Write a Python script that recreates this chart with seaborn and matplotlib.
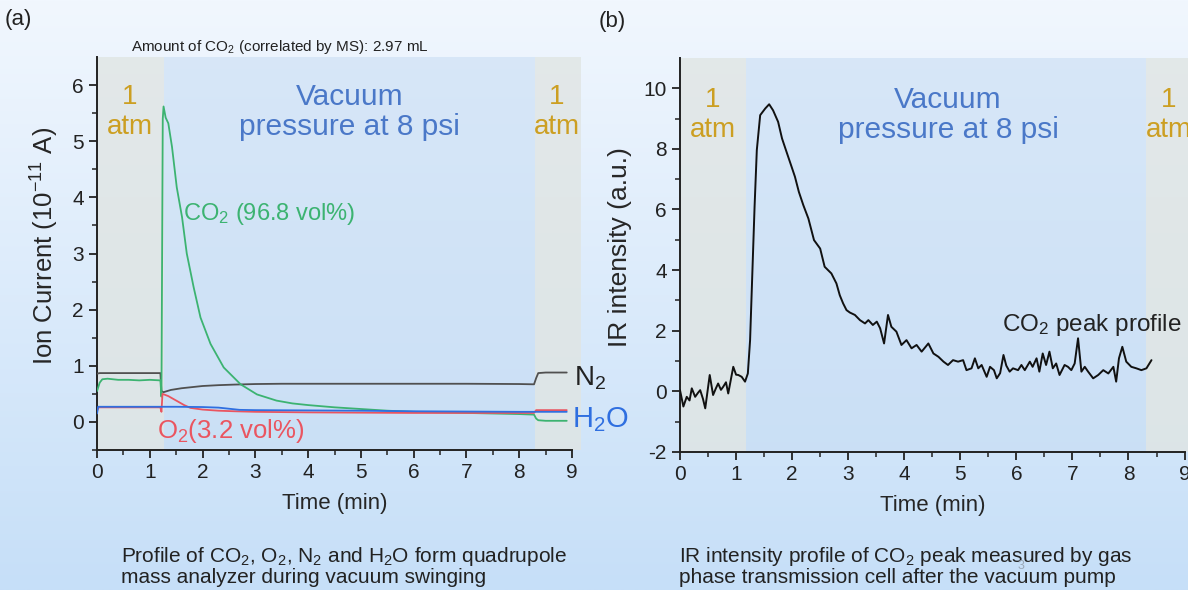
import numpy as np
import pandas as pd
import matplotlib
matplotlib.use("Agg")
import matplotlib.pyplot as plt
import seaborn as sns

# ---- panel (a): quadrupole MS traces ----
n2_t = [0, 0.05, 0.3, 0.6, 0.9, 1.2, 1.22, 1.26, 1.4, 1.6, 1.8, 2.0, 2.3, 2.6, 3.0, 3.5, 4.0, 5.0, 6.0, 7.0, 8.0, 8.28, 8.32, 8.36, 8.5, 8.7, 8.9]
n2_v = [0.86, 0.87, 0.87, 0.87, 0.87, 0.87, 0.55, 0.53, 0.57, 0.60, 0.62, 0.64, 0.655, 0.665, 0.675, 0.68, 0.68, 0.68, 0.68, 0.68, 0.675, 0.67, 0.78, 0.87, 0.88, 0.88, 0.88]

co2_t = [0, 0.05, 0.1, 0.2, 0.4, 0.6, 0.8, 1.0, 1.2, 1.22, 1.245, 1.26, 1.30, 1.35, 1.42, 1.51, 1.61, 1.70, 1.83, 1.96, 2.15, 2.4, 2.72, 3.03, 3.4, 3.7, 4.0, 4.5, 5.0, 5.5, 6.0, 7.0, 8.0, 8.28, 8.32, 8.36, 8.5, 8.9]
co2_v = [0.55, 0.70, 0.76, 0.77, 0.75, 0.75, 0.74, 0.75, 0.74, 0.45, 5.40, 5.62, 5.42, 5.32, 4.90, 4.18, 3.65, 3.00, 2.40, 1.86, 1.39, 0.97, 0.67, 0.49, 0.38, 0.33, 0.30, 0.26, 0.23, 0.20, 0.18, 0.16, 0.14, 0.13, 0.06, 0.03, 0.02, 0.02]

o2_t = [0, 0.03, 0.5, 1.0, 1.2, 1.22, 1.24, 1.35, 1.51, 1.65, 1.77, 2.0, 2.3, 2.6, 3.0, 4.0, 5.0, 6.0, 7.0, 8.28, 8.32, 8.5, 8.9]
o2_v = [0.20, 0.26, 0.26, 0.26, 0.26, 0.18, 0.50, 0.46, 0.375, 0.30, 0.25, 0.22, 0.20, 0.19, 0.18, 0.17, 0.165, 0.16, 0.16, 0.16, 0.21, 0.21, 0.21]

h2o_t = [0, 0.02, 0.5, 1.0, 1.5, 2.0, 2.3, 2.5, 2.7, 3.0, 4.0, 5.0, 6.0, 7.0, 8.0, 8.3, 8.5, 8.9]
h2o_v = [0.15, 0.27, 0.27, 0.27, 0.27, 0.265, 0.255, 0.235, 0.215, 0.21, 0.205, 0.20, 0.19, 0.185, 0.18, 0.18, 0.18, 0.18]

# ---- panel (b): IR intensity of CO2 peak ----
ir_t = [0.00, 0.06, 0.12, 0.17, 0.21, 0.27, 0.32, 0.36, 0.41, 0.45, 0.53, 0.59, 0.64, 0.68, 0.73, 0.77, 0.82, 0.86, 0.95, 1.00,
        1.04, 1.10, 1.16, 1.21, 1.25, 1.29, 1.33, 1.37, 1.43, 1.52, 1.59, 1.66, 1.75, 1.82, 1.90, 1.99, 2.05, 2.12, 2.20, 2.29,
        2.39, 2.50, 2.58, 2.70, 2.79, 2.85, 2.91, 2.97, 3.03, 3.12, 3.21, 3.30, 3.36, 3.44, 3.51, 3.57, 3.64, 3.71, 3.77, 3.86,
        3.95, 4.04, 4.13, 4.22, 4.31, 4.43, 4.52, 4.61, 4.70, 4.78, 4.87, 4.96, 5.05, 5.11, 5.20, 5.26, 5.32, 5.38, 5.47, 5.53,
        5.60, 5.65, 5.71, 5.77, 5.82, 5.88, 5.94, 6.03, 6.09, 6.15, 6.24, 6.29, 6.36, 6.41, 6.47, 6.53, 6.59, 6.65, 6.71, 6.77,
        6.86, 6.92, 6.98, 7.04, 7.10, 7.16, 7.22, 7.28, 7.37, 7.46, 7.55, 7.64, 7.73, 7.78, 7.83, 7.89, 7.96, 8.05, 8.14, 8.23,
        8.32, 8.41]
ir_v = [0.04, -0.50, -0.18, -0.30, 0.10, -0.18, -0.05, 0.04, -0.25, -0.56, 0.54, -0.12, 0.10, 0.26, 0.05, 0.15, 0.30, -0.07, 0.81, 0.55,
        0.54, 0.48, 0.32, 0.59, 1.69, 3.89, 6.09, 7.96, 9.11, 9.33, 9.47, 9.27, 8.89, 8.34, 7.90, 7.41, 7.08, 6.58, 6.14, 5.70,
        4.99, 4.71, 4.11, 3.89, 3.56, 3.17, 2.90, 2.68, 2.60, 2.52, 2.35, 2.24, 2.35, 2.19, 2.30, 2.08, 1.58, 2.52, 2.13, 1.97,
        1.53, 1.69, 1.42, 1.53, 1.31, 1.58, 1.25, 1.14, 0.98, 0.87, 1.03, 0.98, 1.03, 0.70, 0.76, 1.09, 0.76, 0.87, 0.48, 0.81,
        0.70, 0.43, 0.60, 1.20, 0.85, 0.65, 0.76, 0.70, 0.87, 0.70, 0.98, 0.81, 1.09, 0.65, 1.25, 0.87, 1.31, 0.76, 0.92, 0.54,
        0.87, 0.81, 0.70, 0.92, 1.75, 0.65, 0.81, 0.65, 0.43, 0.54, 0.70, 0.59, 0.81, 0.32, 1.09, 1.47, 0.98, 0.81, 0.76, 0.70,
        0.76, 1.03]

ms_df = pd.concat([
    pd.DataFrame({"t": n2_t, "v": n2_v, "gas": "N2"}),
    pd.DataFrame({"t": co2_t, "v": co2_v, "gas": "CO2"}),
    pd.DataFrame({"t": o2_t, "v": o2_v, "gas": "O2"}),
    pd.DataFrame({"t": h2o_t, "v": h2o_v, "gas": "H2O"}),
])
ir_df = pd.DataFrame({"t": ir_t, "v": ir_v})

sns.set_style("ticks")
plt.rcParams["font.family"] = ["Liberation Sans", "DejaVu Sans"]
plt.rcParams["mathtext.fontset"] = "custom"
plt.rcParams["mathtext.rm"] = "Liberation Sans"
plt.rcParams["mathtext.it"] = "Liberation Sans:italic"
plt.rcParams["axes.unicode_minus"] = False

gold = "#cc9f22"
vac_blue = "#4a78c8"
palette = {"N2": "#505050", "CO2": "#3cb371", "O2": "#ea5560", "H2O": "#2f6fe0"}

fig = plt.figure(figsize=(11.88, 5.90), dpi=100)

# gradient background
bg = fig.add_axes([0, 0, 1, 1], zorder=-10)
top = np.array([241, 247, 254]) / 255
bot = np.array([198, 223, 248]) / 255
grad = np.linspace(0, 1, 256)[:, None, None]
img = top * (1 - grad) + bot * grad
img = np.repeat(img, 2, axis=1)
bg.imshow(img, aspect="auto", extent=[0, 1, 0, 1])
bg.axis("off")

ax1 = fig.add_axes([0.0817, 0.2373, 0.3998, 0.666])
ax2 = fig.add_axes([0.5724, 0.2339, 0.4247, 0.668])

atm_c = "#e0e5e3"
vac_c = "#c6dcf3"


def style_axis(ax):
    ax.set_facecolor("none")
    sns.despine(ax=ax, top=True, right=True)
    for s in ["left", "bottom"]:
        ax.spines[s].set_linewidth(1.4)
        ax.spines[s].set_color("#222222")
    ax.tick_params(which="major", direction="out", length=6, width=1.3, labelsize=15, colors="#222222")
    ax.tick_params(which="minor", direction="out", length=3.5, width=1.1, colors="#222222")


# ---- (a) ----
ax = ax1
ax.axvspan(0, 1.26, color=atm_c, alpha=0.8, lw=0, zorder=0)
ax.axvspan(1.26, 8.3, color=vac_c, alpha=0.55, lw=0, zorder=0)
ax.axvspan(8.3, 9.17, color=atm_c, alpha=0.8, lw=0, zorder=0, clip_on=False)
sns.lineplot(data=ms_df, x="t", y="v", hue="gas", palette=palette, hue_order=["N2", "CO2", "O2", "H2O"],
             sort=False, estimator=None, lw=1.3, legend=False, ax=ax, zorder=3)
ax.set_xlim(0, 9)
ax.set_ylim(-0.5, 6.5)
ax.set_xticks(range(0, 10))
ax.set_xticks(np.arange(0.5, 9, 1), minor=True)
ax.set_yticks(range(0, 7))
ax.set_yticks(np.arange(-0.5, 6.5, 1), minor=True)
style_axis(ax)
ax.set_xlabel("Time (min)", fontsize=16)
ax.set_ylabel(r"Ion Current (10$^{-11}$ A)", fontsize=18.5)
ax.xaxis.set_label_coords(0.5, -0.135)
ax.xaxis.label.set_va("center")
ax.yaxis.set_label_coords(-0.109, 0.52)
ax.yaxis.label.set_va("center")

ax.text(0.62, 5.52, "1\natm", color=gold, fontsize=20, ha="center", va="center", linespacing=1.2)
ax.text(4.79, 5.52, "Vacuum\npressure at 8 psi", color=vac_blue, fontsize=21.5, ha="center", va="center", linespacing=1.1)
ax.text(8.71, 5.52, "1\natm", color=gold, fontsize=20, ha="center", va="center", linespacing=1.2)
ax.text(1.63, 3.71, r"CO$_2$ (96.8 vol%)", color=palette["CO2"], fontsize=17, ha="left", va="center")
ax.text(1.14, -0.16, r"O$_2$(3.2 vol%)", color=palette["O2"], fontsize=18.5, ha="left", va="center")
ax.text(9.03, 0.77, r"N$_2$", color="#222222", fontsize=20, ha="left", va="center", clip_on=False)
ax.text(9.0, 0.05, r"H$_2$O", color=palette["H2O"], fontsize=21, ha="left", va="center", clip_on=False)

# ---- (b) ----
ax = ax2
ax.axvspan(0, 1.17, color=atm_c, alpha=0.8, lw=0, zorder=0)
ax.axvspan(1.17, 8.31, color=vac_c, alpha=0.55, lw=0, zorder=0)
ax.axvspan(8.31, 9.2, color=atm_c, alpha=0.8, lw=0, zorder=0, clip_on=False)
sns.lineplot(data=ir_df, x="t", y="v", color="#111111", lw=1.4, sort=False, estimator=None, ax=ax, zorder=3)
ax.set_xlim(0, 9)
ax.set_ylim(-2, 11)
ax.set_xticks(range(0, 10))
ax.set_xticks(np.arange(0.5, 9, 1), minor=True)
ax.set_yticks(range(-2, 11, 2))
ax.set_yticks(range(-1, 11, 2), minor=True)
style_axis(ax)
ax.set_xlabel("Time (min)", fontsize=16)
ax.set_ylabel("IR intensity (a.u.)", fontsize=19)
ax.xaxis.set_label_coords(0.5, -0.135)
ax.xaxis.label.set_va("center")
ax.yaxis.set_label_coords(-0.119, 0.52)
ax.yaxis.label.set_va("center")

ax.text(0.59, 9.11, "1\natm", color=gold, fontsize=20, ha="center", va="center", linespacing=1.2)
ax.text(4.78, 9.11, "Vacuum\npressure at 8 psi", color=vac_blue, fontsize=21.5, ha="center", va="center", linespacing=1.1)
ax.text(8.72, 9.11, "1\natm", color=gold, fontsize=20, ha="center", va="center", linespacing=1.2, clip_on=False)
ax.text(5.74, 2.19, r"CO$_2$ peak profile", color="#222222", fontsize=17.5, ha="left", va="center")

# ---- figure annotations ----
fig.text(18 / 1188, 1 - 20 / 590, "(a)", fontsize=16, ha="center", va="center", color="#222222")
fig.text(612 / 1188, 1 - 22 / 590, "(b)", fontsize=16, ha="center", va="center", color="#222222")
fig.text(280 / 1188, 1 - 47 / 590, r"Amount of CO$_2$ (correlated by MS): 2.97 mL", fontsize=11,
         ha="center", va="center", color="#222222")
fig.text(121 / 1188, 1 - 566 / 590,
         "Profile of CO$_2$, O$_2$, N$_2$ and H$_2$O form quadrupole\nmass analyzer during vacuum swinging",
         fontsize=15, ha="left", va="center", linespacing=1.05, color="#222222")
fig.text(679 / 1188, 1 - 566 / 590,
         "IR intensity profile of CO$_2$ peak measured by gas\nphase transmission cell after the vacuum pump",
         fontsize=15, ha="left", va="center", linespacing=1.05, color="#222222")
fig.text(1021 / 1188, 1 - 566 / 590, "3", fontsize=9, color="#9aa8b8", ha="center", va="center")

fig.savefig("out.png", dpi=100)
